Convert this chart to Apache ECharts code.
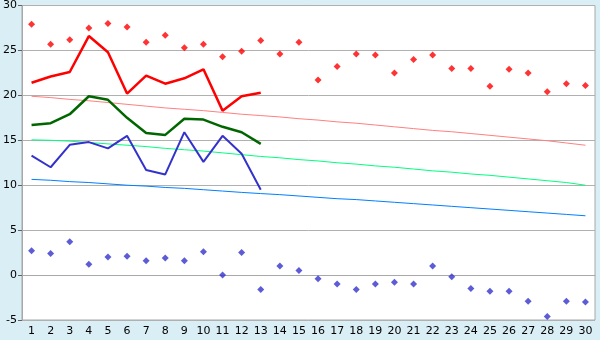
<!DOCTYPE html>
<html><head><meta charset="utf-8">
<script src="https://cdn.jsdelivr.net/npm/echarts@6/dist/echarts.min.js"></script>
<style>html,body{margin:0;padding:0;background:#D9EEF5}#c{width:600px;height:340px}</style>
</head><body><div id="c"></div>
<script>
const days = Array.from({length:30},(_,i)=>String(i+1));
const recordMax = [27.9,25.7,26.2,27.5,28.0,27.6,25.9,26.7,25.3,25.7,24.3,24.9,26.1,24.6,25.9,21.7,23.2,24.6,24.5,22.5,24.0,24.5,23.0,23.0,21.0,22.9,22.5,20.4,21.3,21.1];
const recordMin = [2.7,2.4,3.7,1.2,2.0,2.1,1.6,1.9,1.6,2.6,0.0,2.5,-1.6,1.0,0.5,-0.4,-1.0,-1.6,-1.0,-0.8,-1.0,1.0,-0.2,-1.5,-1.8,-1.8,-2.9,-4.6,-2.9,-3.0];
const obsMax = [21.4,22.1,22.6,26.6,24.8,20.2,22.2,21.3,21.9,22.9,18.3,19.9,20.3];
const obsMean = [16.7,16.9,17.9,19.9,19.5,17.5,15.8,15.6,17.4,17.3,16.5,15.9,14.6];
const obsMin = [13.3,12.0,14.5,14.8,14.1,15.5,11.7,11.2,15.9,12.6,15.5,13.5,9.5];
const normMax = [19.9,19.75,19.55,19.4,19.2,19.0,18.8,18.6,18.45,18.3,18.1,17.9,17.75,17.6,17.4,17.25,17.05,16.9,16.7,16.5,16.3,16.1,15.95,15.75,15.55,15.35,15.15,14.95,14.7,14.45];
const normMean = [15.05,15.0,14.9,14.75,14.6,14.45,14.3,14.1,13.95,13.8,13.6,13.4,13.2,13.05,12.85,12.7,12.5,12.35,12.15,12.0,11.8,11.6,11.45,11.25,11.1,10.9,10.7,10.5,10.3,10.0];
const normMin = [10.65,10.55,10.4,10.3,10.15,10.0,9.9,9.75,9.65,9.5,9.35,9.2,9.07,8.95,8.8,8.65,8.5,8.4,8.25,8.1,7.95,7.8,7.65,7.5,7.35,7.2,7.05,6.9,6.75,6.6];
const yTicks = [-5,0,5,10,15,20,25,30];

const chart = echarts.init(document.getElementById('c'), null, {renderer:'canvas'});
const font = {fontFamily:'DejaVu Sans', fontSize:11, color:'#000'};
function line(data,color,w,z){return {type:'line',data,symbol:'none',lineStyle:{color,width:w},itemStyle:{color},z,animation:false};}
function pts(data,color){return {type:'scatter',data,symbol:'diamond',symbolSize:7,itemStyle:{color},z:10,animation:false};}
chart.setOption({
  backgroundColor:'#D9EEF5',
  animation:false,
  grid:{left:20,right:5,top:5,bottom:20,show:true,backgroundColor:'#fff',borderColor:'#A8A8A8',borderWidth:1},
  xAxis:{type:'category',data:days,boundaryGap:true,
    axisLine:{lineStyle:{color:'#A8A8A8'}},
    axisTick:{alignWithLabel:true,length:4,lineStyle:{color:'#606060'}},
    axisLabel:Object.assign({margin:6,interval:0},font),splitLine:{show:false}},
  yAxis:{type:'value',min:yTicks[0],max:yTicks[yTicks.length-1],interval:5,
    axisLine:{show:true,lineStyle:{color:'#A8A8A8'}},
    axisTick:{show:true,length:4,lineStyle:{color:'#606060'}},
    axisLabel:Object.assign({margin:5},font),
    splitLine:{lineStyle:{color:'#B0B0B0',width:1}}},
  series:[
    line(normMax,'#FF8080',1,2),
    line(normMean,'#00FF80',1,2),
    line(normMin,'#0080FF',1,2),
    line(obsMax,'#FF0000',2.5,5),
    line(obsMean,'#006600',2.5,5),
    line(obsMin,'#3333CC',2,5),
    pts(recordMax,'#FF0000'),
    pts(recordMin,'#3333CC')
  ]
});
</script></body></html>
